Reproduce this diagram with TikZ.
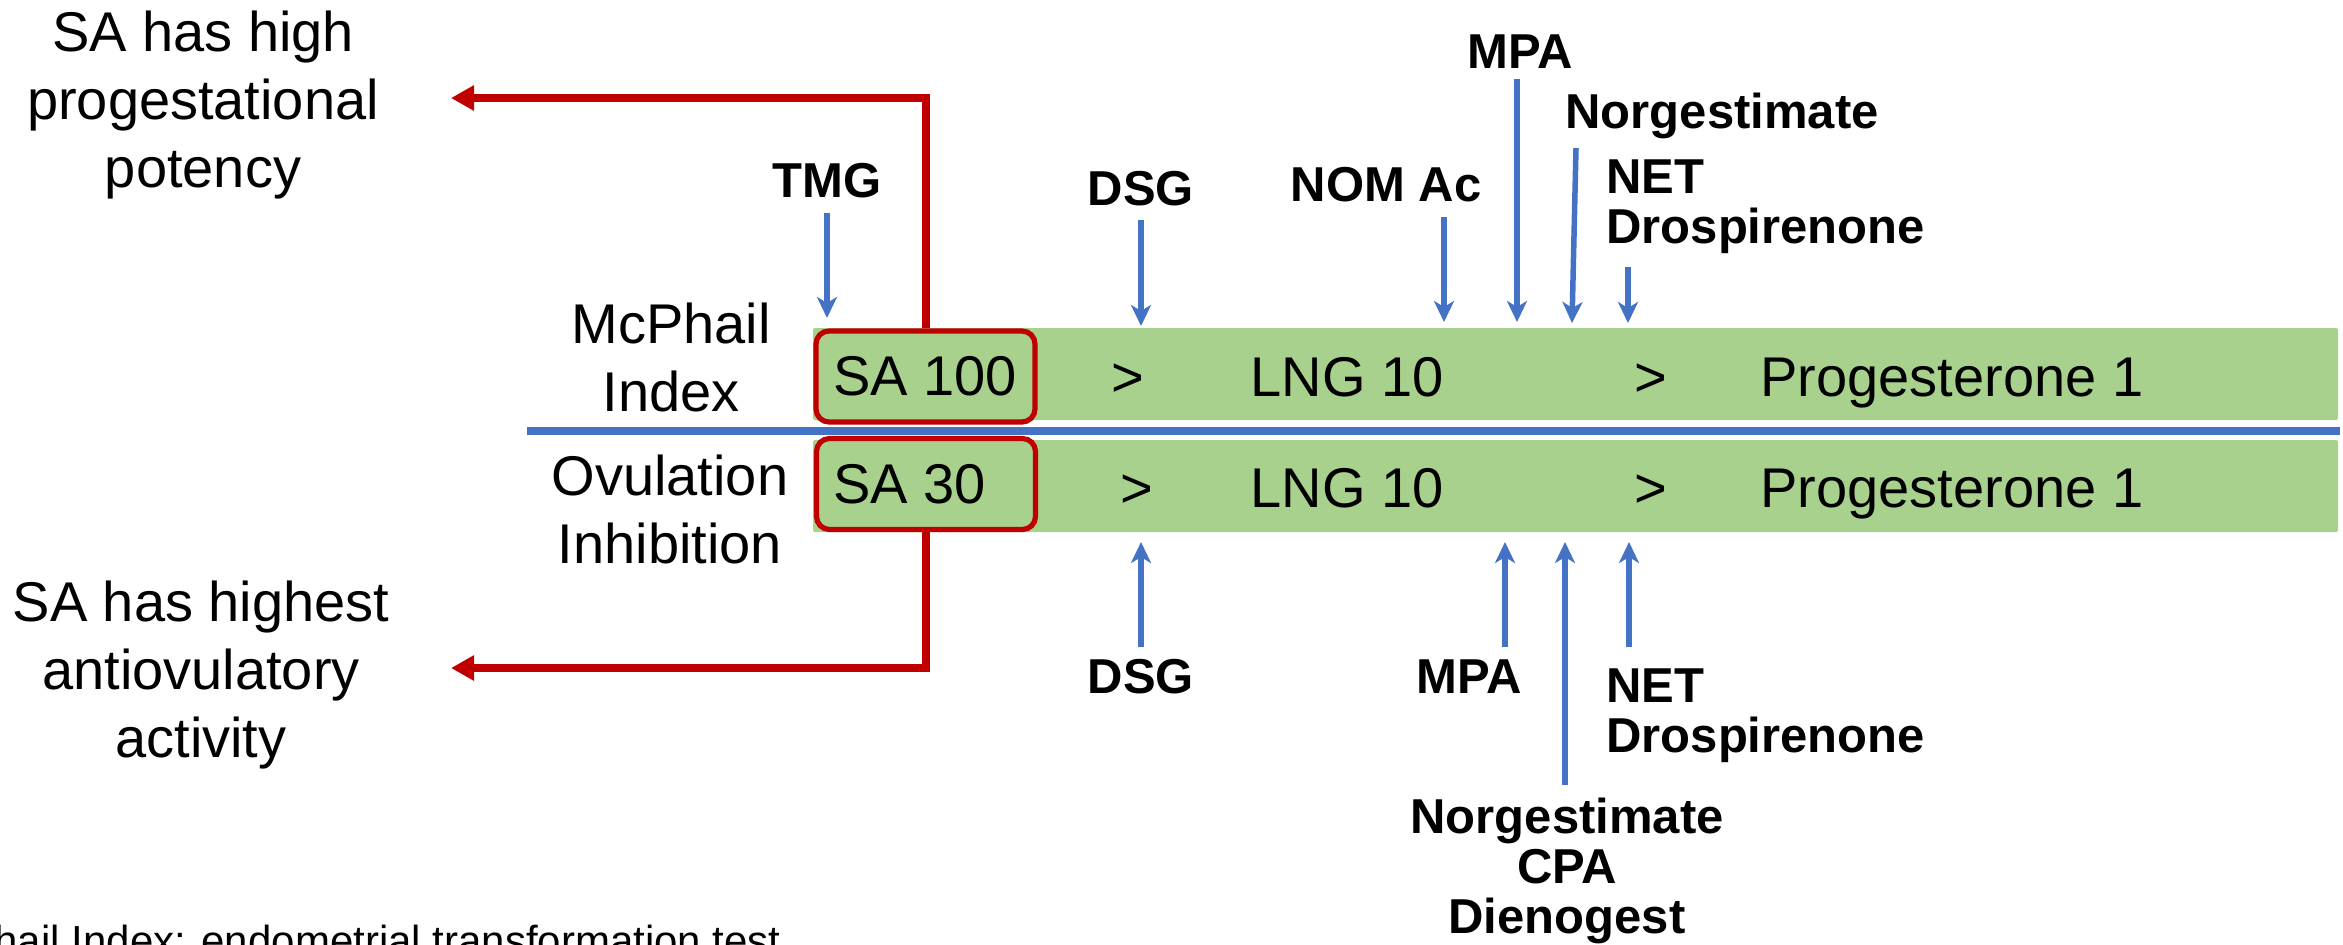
\documentclass[tikz,border=0pt]{standalone}
\usepackage{fontspec}
\setmainfont{Liberation Sans}
\usetikzlibrary{arrows.meta}
\definecolor{bandgreen}{HTML}{A9D18E}
\definecolor{sared}{HTML}{C00000}
\definecolor{arrblue}{HTML}{4472C4}
\newcommand{\boxtext}[1]{\makebox[92.5pt][l]{#1}}
\begin{document}
\begin{tikzpicture}[x=0.5pt,y=-0.5pt,
  big/.style={font=\fontsize{28}{34}\selectfont, inner sep=0pt},
  lbl/.style={font=\fontsize{24.5}{25}\selectfont\bfseries, inner sep=0pt},
  band/.style={fill=bandgreen, draw=none, rounded corners=1pt, minimum width=762.5pt, minimum height=46pt, inner sep=0pt},
  redbox/.style={draw=sared, line width=2.6pt, fill=bandgreen, rounded corners=6.5pt, minimum height=45.5pt, inner xsep=8.5pt, inner ysep=0pt, font=\fontsize{28}{34}\selectfont},
  redconn/.style={draw=sared, line width=4pt, -{Triangle[length=11.5pt,width=12pt]}},
  barrow/.style={draw=arrblue, line width=2.75pt, -{Stealth[length=10.5pt,width=10pt,inset=3pt]}},
  divider/.style={draw=arrblue, line width=4pt}
]
\useasboundingbox (0,0) rectangle (2343,944);
\clip (0,0) rectangle (2343,944);

% bands
\node[band] (band1) at (1575.5,374) {};
\node[band] (band2) at (1575.5,486) {};
\coordinate (divL) at (527,430.5);
\coordinate (divR) at (2340,430.5);
\draw[divider] (divL) -- (divR);

\node[redbox] (sa100) at (925.5,376.5) {\boxtext{SA 100}};
\node[redbox] (sa30) at (926,484) {\boxtext{SA 30}};

\node[big, anchor=base] (gt1) at (1128,396) {>};
\node[big, anchor=base] (lng1) at (1347,396) {LNG 10};
\node[big, anchor=base] (gt2) at (1651,396) {>};
\node[big, anchor=base] (prog1) at (1952,396) {Progesterone 1};
\node[big, anchor=base] (gt3) at (1137,507) {>};
\node[big, anchor=base] (lng2) at (1347,507) {LNG 10};
\node[big, anchor=base] (gt4) at (1651,507) {>};
\node[big, anchor=base] (prog2) at (1952,507) {Progesterone 1};

% left labels
\node[big, align=center] (mcphail) at (671,357) {McPhail\\Index};
\node[big, align=center] (ovul) at (670,509) {Ovulation\\Inhibition};
\node[big, align=center] (high) at (203,105) {SA has high\\progestational\\potency};
\node[big, align=center] (highest) at (201,675.5) {SA has highest\\antiovulatory\\activity};

% red connectors
\coordinate (pp) at (451,98);
\coordinate (ao) at (451,668);
\draw[redconn] (sa100.north) |- (pp);
\draw[redconn] (sa30.south) |- (ao);

% top labels
\node[lbl, anchor=base] (tmg) at (827,197) {TMG};
\node[lbl, anchor=base] (dsg1) at (1141,205) {DSG};
\node[lbl, anchor=base] (nom) at (1386,201) {NOM Ac};
\node[lbl, anchor=base] (mpa1) at (1520,68) {MPA};
\node[lbl, anchor=base] (ngm1) at (1722,128) {Norgestimate};
\node[lbl, anchor=west, align=left] (net1) at (1606,207) {NET\\Drospirenone};

% bottom labels
\node[lbl, anchor=base] (dsg2) at (1141,693) {DSG};
\node[lbl, anchor=base] (mpa2) at (1469,693) {MPA};
\node[lbl, anchor=west, align=left] (net2) at (1606,716) {NET\\Drospirenone};
\node[lbl, align=center] (ngm2) at (1567,871) {Norgestimate\\CPA\\Dienogest};

% top arrows
\coordinate (tmgA) at (827,213);  \coordinate (tmgB) at (827,318);
\coordinate (dsgA) at (1141,220); \coordinate (dsgB) at (1141,326);
\coordinate (nomA) at (1444,217); \coordinate (nomB) at (1444,322);
\coordinate (mpaA) at (1517,79);  \coordinate (mpaB) at (1517,322);
\coordinate (ngmA) at (1576,148); \coordinate (ngmB) at (1572,323);
\coordinate (netA) at (1628,267); \coordinate (netB) at (1628,323);
\draw[barrow] (tmgA) -- (tmgB);
\draw[barrow] (dsgA) -- (dsgB);
\draw[barrow] (nomA) -- (nomB);
\draw[barrow] (mpaA) -- (mpaB);
\draw[barrow] (ngmA) -- (ngmB);
\draw[barrow] (netA) -- (netB);

% bottom arrows
\coordinate (dsgC) at (1141,647); \coordinate (dsgD) at (1141,542);
\coordinate (mpaC) at (1505,647); \coordinate (mpaD) at (1505,542);
\coordinate (ngmC) at (1565,785); \coordinate (ngmD) at (1565,542);
\coordinate (netC) at (1629,647); \coordinate (netD) at (1629,542);
\draw[barrow] (dsgC) -- (dsgD);
\draw[barrow] (mpaC) -- (mpaD);
\draw[barrow] (ngmC) -- (ngmD);
\draw[barrow] (netC) -- (netD);

% footer
\node[anchor=base east, font=\fontsize{21}{25}\selectfont, inner sep=0pt] (foot) at (781,955) {McPhail Index: endometrial transformation test};
\end{tikzpicture}
\end{document}
